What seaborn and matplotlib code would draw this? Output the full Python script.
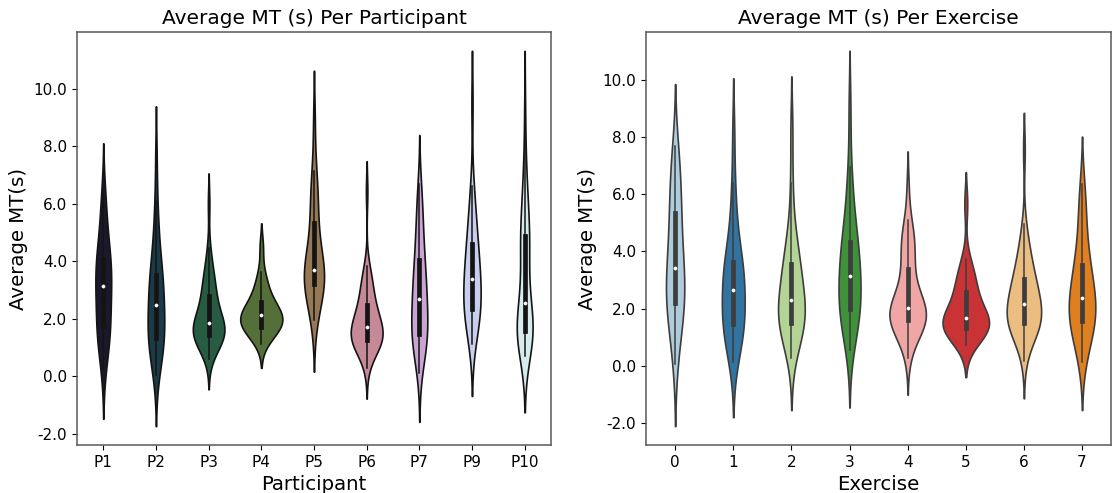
import matplotlib
matplotlib.use("Agg")
import matplotlib.pyplot as plt
from matplotlib.ticker import FuncFormatter
import pandas as pd
import seaborn as sns

# Average movement time (s) per trial, grouped by participant
participants = ["P1", "P2", "P3", "P4", "P5", "P6", "P7", "P9", "P10"]
mt_p1 = [0.25, 0.8, 1.1, 1.35, 1.55, 1.68, 1.76, 2.05, 2.35, 2.6, 2.85, 3.05,
         3.23, 3.4, 3.6, 3.78, 3.92, 4.05, 4.21, 4.5, 4.9, 5.35, 5.85, 6.38]
mt_p2 = [0.06, 0.42, 0.7, 0.9, 1.05, 1.16, 1.25, 1.31, 1.43, 1.55, 1.7, 1.85,
         2.0, 2.15, 2.38, 2.58, 2.75, 2.9, 3.05, 3.2, 3.35, 3.48, 3.56, 3.8,
         4.1, 4.45, 4.9, 5.45, 6.1, 7.6]
mt_p3 = [0.61, 0.9, 1.02, 1.1, 1.17, 1.23, 1.28, 1.32, 1.36, 1.42, 1.44, 1.48,
         1.52, 1.56, 1.6, 1.64, 1.68, 1.72, 1.77, 1.84, 1.9, 1.96, 2.03, 2.1,
         2.18, 2.27, 2.37, 2.48, 2.6, 2.75, 2.91, 3.0, 3.12, 3.25, 3.4, 3.55,
         3.75, 4.05, 4.45, 6.0]
mt_p4 = [1.12, 1.35, 1.5, 1.6, 1.66, 1.69, 1.74, 1.82, 1.9, 1.97, 2.03, 2.09,
         2.15, 2.2, 2.26, 2.33, 2.42, 2.55, 2.71, 2.85, 3.05, 3.3, 3.62, 4.5]
mt_p5 = [1.95, 2.4, 2.7, 2.9, 3.05, 3.2, 3.24, 3.35, 3.45, 3.55, 3.62, 3.67,
         3.73, 3.85, 4.05, 4.35, 4.7, 5.2, 5.68, 5.95, 6.3, 6.7, 7.15, 8.84]
mt_p6 = [0.29, 0.7, 0.85, 0.95, 1.02, 1.08, 1.12, 1.17, 1.21, 1.25, 1.27, 1.31,
         1.35, 1.39, 1.43, 1.48, 1.53, 1.58, 1.63, 1.7, 1.76, 1.82, 1.88, 1.95,
         2.02, 2.1, 2.18, 2.26, 2.34, 2.43, 2.6, 2.72, 2.85, 2.98, 3.12, 3.27,
         3.43, 3.62, 3.84, 6.42]
mt_p7 = [0.12, 0.55, 0.8, 0.98, 1.1, 1.2, 1.29, 1.37, 1.44, 1.48, 1.6, 1.75,
         1.9, 2.05, 2.2, 2.35, 2.5, 2.63, 2.77, 2.9, 3.05, 3.2, 3.35, 3.5,
         3.65, 3.8, 3.98, 4.26, 4.5, 4.75, 5.0, 5.3, 5.6, 5.95, 6.3, 6.69]
mt_p9 = [1.14, 1.5, 1.72, 1.9, 2.03, 2.13, 2.23, 2.32, 2.44, 2.55, 2.7, 2.85,
         3.0, 3.15, 3.3, 3.44, 3.58, 3.72, 3.86, 4.02, 4.2, 4.5, 4.62, 4.85,
         5.1, 5.4, 5.7, 6.1, 6.63, 9.5]
mt_p10 = [0.72, 0.95, 1.08, 1.17, 1.24, 1.3, 1.35, 1.4, 1.44, 1.48, 1.52, 1.55,
          1.59, 1.63, 1.67, 1.71, 1.75, 1.8, 1.85, 1.9, 1.96, 2.06, 2.2, 2.42,
          2.7, 2.95, 3.2, 3.45, 3.7, 3.9, 4.1, 4.3, 4.45, 4.6, 4.72, 4.84,
          4.95, 5.08, 5.25, 5.42, 5.62, 5.85, 6.1, 6.4, 6.75, 7.2, 7.9, 9.35]

# Average movement time (s) per trial, grouped by exercise
exercises = ["0", "1", "2", "3", "4", "5", "6", "7"]
mt_ex0 = [0.06, 0.7, 1.15, 1.5, 1.8, 2.0, 2.15, 2.25, 2.4, 2.6, 2.8, 3.0, 3.2, 3.42,
          3.65, 3.9, 4.2, 4.5, 4.85, 5.2, 5.48, 5.8, 6.15, 6.5, 6.9, 7.3, 7.68]
mt_ex1 = [0.14, 0.5, 0.8, 1.0, 1.2, 1.35, 1.43, 1.51, 1.65, 1.82, 2.0, 2.2, 2.45, 2.67,
          2.85, 3.0, 3.15, 3.3, 3.45, 3.56, 3.68, 3.95, 4.35, 4.9, 5.6, 6.4, 8.12]
mt_ex2 = [0.29, 0.85, 1.1, 1.25, 1.34, 1.41, 1.46, 1.52, 1.65, 1.8, 1.95, 2.08, 2.2, 2.32,
          2.45, 2.6, 2.8, 3.05, 3.3, 3.48, 3.64, 3.82, 4.1, 4.45, 5.0, 6.4, 8.28]
mt_ex3 = [0.56, 1.0, 1.3, 1.55, 1.72, 1.86, 1.95, 2.05, 2.2, 2.4, 2.6, 2.8, 2.97, 3.13,
          3.3, 3.5, 3.7, 3.92, 4.12, 4.26, 4.42, 4.72, 5.1, 5.6, 6.2, 6.95, 9.0]
mt_ex4 = [0.29, 0.75, 0.98, 1.12, 1.22, 1.31, 1.38, 1.45, 1.52, 1.58, 1.61, 1.65,
          1.69, 1.73, 1.77, 1.81, 1.86, 1.91, 1.96, 2.0, 2.06, 2.13, 2.21, 2.3,
          2.41, 2.54, 2.7, 2.88, 3.08, 3.3, 3.66, 3.8, 3.95, 4.12, 4.3, 4.48,
          4.65, 4.85, 5.1, 6.2]
mt_ex5 = [0.72, 1.0, 1.1, 1.17, 1.22, 1.27, 1.3, 1.34, 1.39, 1.44, 1.5, 1.56, 1.62, 1.68,
          1.76, 1.86, 1.98, 2.14, 2.32, 2.5, 2.68, 2.84, 3.0, 3.18, 3.4, 3.75, 5.66]
mt_ex6 = [0.17, 0.7, 0.92, 1.06, 1.16, 1.25, 1.32, 1.38, 1.43, 1.47, 1.5, 1.56,
          1.62, 1.69, 1.76, 1.84, 1.92, 2.0, 2.08, 2.14, 2.22, 2.3, 2.38, 2.47,
          2.56, 2.65, 2.74, 2.83, 2.92, 3.0, 3.2, 3.3, 3.45, 3.6, 3.78, 3.96,
          4.18, 4.5, 4.95, 7.54]
mt_ex7 = [0.12, 0.5, 0.82, 1.08, 1.28, 1.42, 1.53, 1.61, 1.72, 1.84, 1.98, 2.12, 2.24, 2.36,
          2.5, 2.66, 2.85, 3.05, 3.25, 3.45, 3.63, 3.95, 4.35, 4.8, 5.3, 5.8, 6.35]

by_participant = [mt_p1, mt_p2, mt_p3, mt_p4, mt_p5, mt_p6, mt_p7, mt_p9, mt_p10]
by_exercise = [mt_ex0, mt_ex1, mt_ex2, mt_ex3, mt_ex4, mt_ex5, mt_ex6, mt_ex7]

df_part = pd.DataFrame(
    [(name, v) for name, vals in zip(participants, by_participant) for v in vals],
    columns=["Participant", "MT"],
)
df_ex = pd.DataFrame(
    [(name, v) for name, vals in zip(exercises, by_exercise) for v in vals],
    columns=["Exercise", "MT"],
)

TITLE_FS = 14.5
LABEL_FS = 14.2
TICK_FS = 11

fig = plt.figure(figsize=(11.12, 4.93), dpi=100)
ax1 = fig.add_axes([0.0692, 0.0974, 0.4263, 0.8377])
ax2 = fig.add_axes([0.5810, 0.0974, 0.4182, 0.8377])

# Inner box: thick IQR bar, thin whisker, small white dot at the median
box_style = dict(box_width=3.4, whis_width=1.1, marker="o",
                 markersize=2.3, markeredgewidth=0.4)

# Violin widths share one density scale across all groups
sns.violinplot(data=df_part, x="Participant", y="MT", hue="Participant",
               order=participants, hue_order=participants,
               palette="cubehelix", legend=False, common_norm=True,
               linewidth=1.2, inner_kws=box_style, ax=ax1)
sns.violinplot(data=df_ex, x="Exercise", y="MT", hue="Exercise",
               order=exercises, hue_order=exercises,
               palette="Paired", legend=False, common_norm=True,
               linewidth=1.2, inner_kws=box_style, ax=ax2)

fmt = FuncFormatter(lambda v, pos: f"{v:.1f}")
for ax, title, xlabel in [
    (ax1, "Average MT (s) Per Participant", "Participant"),
    (ax2, "Average MT (s) Per Exercise", "Exercise"),
]:
    ax.set_title(title, fontsize=TITLE_FS)
    ax.set_xlabel(xlabel, fontsize=LABEL_FS)
    ax.set_ylabel("Average MT(s)", fontsize=LABEL_FS)
    ax.yaxis.set_major_formatter(fmt)
    ax.tick_params(labelsize=TICK_FS)
    for sp in ax.spines.values():
        sp.set_color("0.35")
        sp.set_linewidth(1.1)

fig.savefig("out.png", dpi=100)
